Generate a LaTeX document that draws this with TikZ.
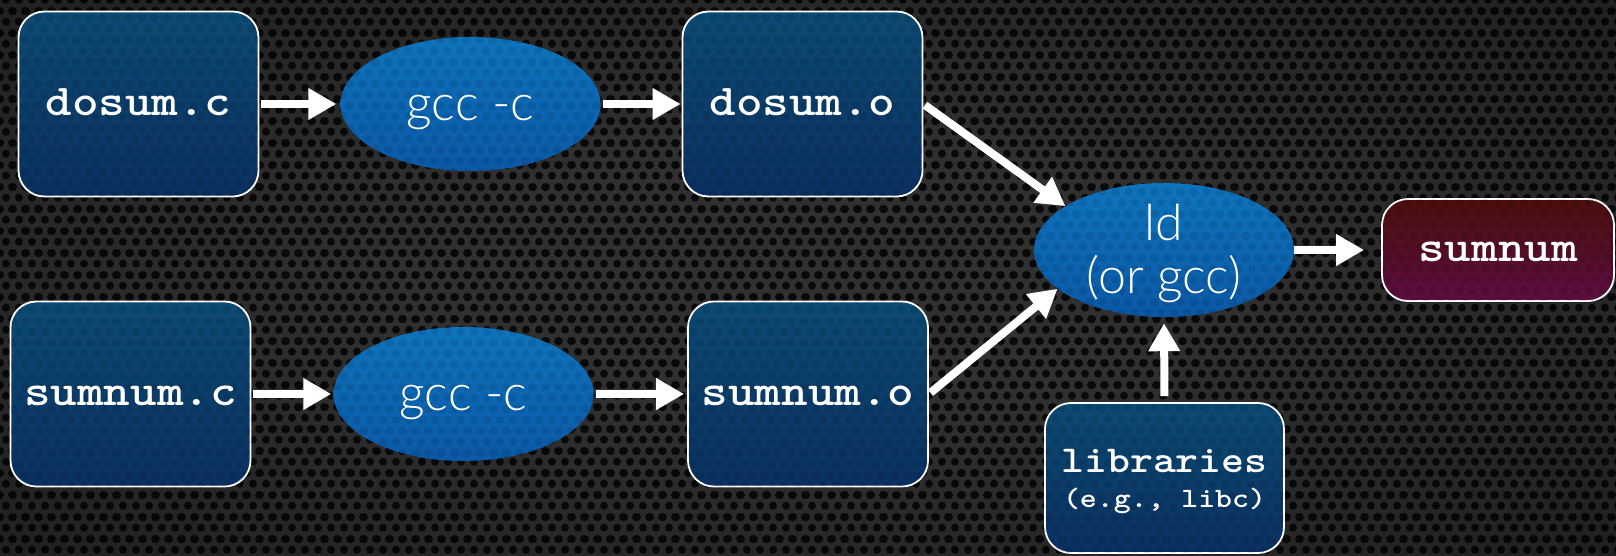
\documentclass[tikz,border=0pt]{standalone}
\usepackage{fontspec}
\newfontfamily\codefont{lmmonolt10-bold}[Extension=.otf, FakeStretch=1.15]
\newfontfamily\lightfont{Lato Light}
\usetikzlibrary{arrows.meta,shapes.geometric,patterns}
\definecolor{bgIn}{HTML}{303030}
\definecolor{bgOut}{HTML}{0E0E0E}
\definecolor{boxTop}{HTML}{0C4A72}
\definecolor{boxBot}{HTML}{0A3060}
\definecolor{ellTop}{HTML}{0E74BC}
\definecolor{ellBot}{HTML}{0B58A6}
\definecolor{marTop}{HTML}{4A0F0C}
\definecolor{marBot}{HTML}{5C0E40}
\pgfdeclareradialshading{vign}{\pgfpoint{0bp}{0bp}}{color(0bp)=(bgIn); color(12bp)=(bgIn); color(62bp)=(bgOut); color(80bp)=(bgOut)}
\pgfdeclarepatternformonly{holes}{\pgfqpoint{0pt}{0pt}}{\pgfqpoint{12.5pt}{21.6pt}}{\pgfqpoint{12.5pt}{21.6pt}}{%
  \pgfpathcircle{\pgfqpoint{6.25pt}{5.4pt}}{4.1pt}%
  \pgfpathcircle{\pgfqpoint{0pt}{16.2pt}}{4.1pt}%
  \pgfpathcircle{\pgfqpoint{12.5pt}{16.2pt}}{4.1pt}%
  \pgfusepath{fill}}
\begin{document}
\begin{tikzpicture}[x=1pt,y=-1pt,
  texture/.style={postaction={fill opacity=0.09, pattern=holes, pattern color=black}},
  box/.style={draw=white, line width=1.8pt, rounded corners=26pt,
    top color=boxTop, bottom color=boxBot, texture,
    minimum width=240pt, minimum height=185pt, inner sep=0pt, text=white,
    font=\codefont\fontsize{44}{48}\selectfont,
    text height=27pt, text depth=5pt},
  outbox/.style={box, top color=marTop, bottom color=marBot,
    minimum width=232pt, minimum height=102pt},
  libbox/.style={box, minimum width=239pt, minimum height=150pt,
    text height=, text depth=, align=center,
    font=\codefont\fontsize{38}{35}\selectfont},
  proc/.style={ellipse, top color=ellTop, bottom color=ellBot, texture,
    minimum width=260pt, minimum height=134pt, inner sep=0pt, text=white,
    font=\lightfont\fontsize{50}{53}\selectfont,
    text height=37pt, text depth=4pt},
  proctext/.style={text=white, align=center, inner sep=0pt,
    font=\lightfont\fontsize{50}{53}\selectfont},
  libtext/.style={text=white, align=center, inner sep=0pt,
    font=\codefont\fontsize{38}{35}\selectfont},
  flow/.style={white, line width=8pt, -{Triangle[width=30pt,length=28pt]}}]
\useasboundingbox (0,0) rectangle (1616,555);
\shade[shading=vign] (0,0) rectangle (1616,555);
\fill[pattern=holes, pattern color=black, fill opacity=0.8] (0,0) rectangle (1616,555);

% nodes
\node[box] (dosumc) at (138.5,104) {dosum.c};
\node[proc] (gcc1) at (470.5,104) {gcc -c};
\node[box] (dosumo) at (802.5,104) {dosum.o};
\node[box] (sumnumc) at (130.5,394) {sumnum.c};
\node[proc] (gcc2) at (463.5,394) {gcc -c};
\node[box] (sumnumo) at (808,394) {sumnum.o};
\node[proc] (ld) at (1164,250) {};
\node[proctext] (ldtxt) at ([yshift=-3pt]ld.center) {ld\\(or gcc)};
\node[outbox] (sumnum) at (1498,250) {sumnum};
\node[box, minimum width=239pt, minimum height=150pt] (libs) at (1164.5,478) {};
\node[libtext] (libtxt) at ([yshift=-4pt]libs.center) {libraries\\{\fontsize{28}{35}\selectfont (e.g., libc)}};

% connectors
\draw[flow, shorten <=2pt, shorten >=4pt] (dosumc) -- (gcc1);
\draw[flow, shorten <=2pt, shorten >=1pt] (gcc1) -- (dosumo);
\draw[flow, shorten <=2pt, shorten >=2pt] (sumnumc) -- (gcc2);
\draw[flow, shorten <=2pt, shorten >=3pt] (gcc2) -- (sumnumo);
\draw[flow, shorten <=2pt] (dosumo.east) -- (ld.156);
\draw[flow, shorten <=2pt] (sumnumo.east) -- (ld.200);
\draw[flow, shorten >=17pt] (ld.east) -- (sumnum.west);
\draw[flow, shorten <=6pt, shorten >=6pt] (libs.north) -- (ld.south);
\end{tikzpicture}
\end{document}
